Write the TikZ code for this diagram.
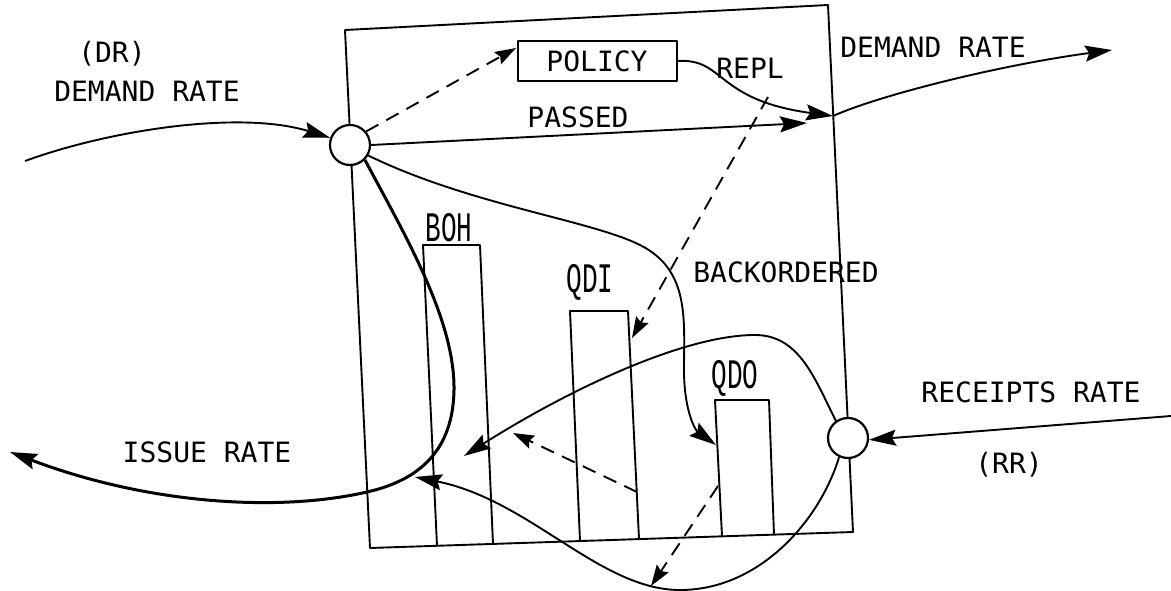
\documentclass[tikz,border=0pt]{standalone}
\usepackage{fontspec}
\newfontfamily\tw{DejaVu Sans Mono}
\newfontfamily\bl{Liberation Mono}
\usetikzlibrary{arrows.meta}
\begin{document}
\begin{tikzpicture}[x=1pt,y=-1pt,line width=1.9pt,line join=round,
  lbl/.style={font=\tw\fontsize{28}{30}\selectfont, inner sep=0pt},
  barlbl/.style={font=\bl\fontsize{42}{44}\selectfont, inner sep=0pt},
  arr/.style={-{Stealth[length=27pt,width=16pt,inset=4pt]}},
  darr/.style={-{Stealth[length=21pt,width=14pt,inset=3pt]}, dash pattern=on 14pt off 9pt},
  thick flow/.style={line width=3pt},
  junc/.style={circle, draw, fill=white, minimum size=40pt, inner sep=0pt, line width=2.2pt},
  pol/.style={draw, line width=2pt, minimum width=159pt, minimum height=40pt}]
\useasboundingbox (0,0) rectangle (1171,591);
% stock box
\coordinate (bTL) at (345,30);
\coordinate (bTR) at (828,5);
\coordinate (bBR) at (853,532);
\coordinate (bBL) at (370,548);
\draw (bTL) -- (bTR) -- (bBR) -- (bBL) -- cycle;
% bars
\draw (437,546) -- (423,245) -- (480,245) -- (493,544);
\draw (580,541) -- (570,311) -- (628,311) -- (639,539);
\draw (722,536) -- (715,400) -- (769,400) -- (774,535);
\node[barlbl] (boh) at (449,228) {\scalebox{0.62}[1]{BOH}};
\node[barlbl] (qdi) at (590,282) {\scalebox{0.62}[1]{QDI}};
\node[barlbl] (qdo) at (735,378) {\scalebox{0.62}[1]{QDO}};
% junctions
\node[junc] (dr) at (350,145) {};
\node[junc] (rr) at (848,438) {};
% policy
\node[pol, lbl] (policy) at (597,61) {POLICY};
% labels
\node[lbl] (drtag) at (112,54) {(DR)};
\node[lbl] (drl) at (147,91) {DEMAND RATE};
\node[lbl] (dro) at (933,47) {DEMAND RATE};
\node[lbl] (repl) at (750,68) {REPL};
\node[lbl] (passed) at (578,117) {PASSED};
\node[lbl] (bo) at (786,272) {BACKORDERED};
\node[lbl] (rrl) at (1031,392) {RECEIPTS RATE};
\node[lbl] (rrtag) at (1009,465) {(RR)};
\node[lbl] (isl) at (207,452) {ISSUE RATE};
% coordinates for free ends
\coordinate (inDR) at (25,161);
\coordinate (join) at (833,116);
\coordinate (outDR) at (1112,50);
\coordinate (passEnd) at (807,123);
\coordinate (polIn) at (516,48);
\coordinate (replMid) at (768,97);
\coordinate (qdiTip) at (632,338);
\coordinate (qdoTip) at (716,445);
\coordinate (issueEnd) at (10,452);
\coordinate (bend) at (367,492);
\coordinate (upTip) at (464,456);
\coordinate (loTip) at (415,477);
\coordinate (qdiSide) at (637,492);
\coordinate (qdiOut) at (513,433);
\coordinate (qdoSide) at (718,486);
\coordinate (qdoOut) at (651,586);
\coordinate (inRR) at (1171,416);
% flows
\draw[arr] (inDR) .. controls (110,130) and (240,110) .. (dr.160);
\draw[arr] (dr.east) -- (passEnd);
\draw[darr] (dr.40) -- (polIn);
\draw[arr] (policy.east) .. controls (725,58) and (715,100) .. (join);
\draw[arr] (join) .. controls (880,95) and (1000,65) .. (outDR);
\draw[darr] (replMid) -- (qdiTip);
\draw[arr] (dr.-30) .. controls (470,205) and (590,220) .. (640,245)
  .. controls (690,270) and (684,320) .. (684,370)
  .. controls (684,410) and (695,430) .. (qdoTip);
\draw[arr, thick flow] (dr.-45) .. controls (405,235) and (455,320) .. (454,390)
  .. controls (453,450) and (420,480) .. (bend)
  .. controls (280,512) and (150,505) .. (issueEnd);
\draw[arr] (rr.125) .. controls (815,380) and (800,335) .. (755,335)
  .. controls (680,335) and (560,395) .. (upTip);
\draw[arr] (rr.-115) .. controls (820,520) and (760,590) .. (680,590)
  .. controls (600,590) and (530,500) .. (loTip);
\draw[darr] (qdiSide) -- (qdiOut);
\draw[darr] (qdoSide) -- (qdoOut);
\draw[arr] (inRR) -- (rr.-5);
\end{tikzpicture}
\end{document}
